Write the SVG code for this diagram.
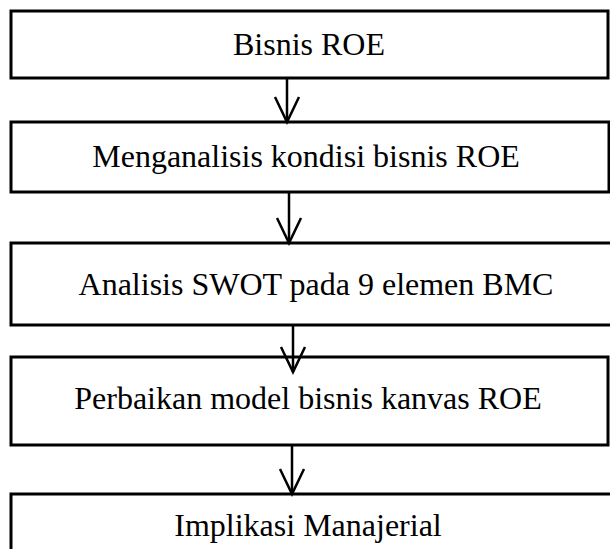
<svg xmlns="http://www.w3.org/2000/svg" width="610" height="549" viewBox="0 0 610 549">
<style>
.box{fill:#ffffff;stroke:#000000;stroke-width:3}
.lbl{font-family:"Liberation Serif","Times New Roman",serif;font-size:32px;fill:#000000;text-anchor:middle}
.conn{stroke:#000000;stroke-width:2.5;fill:none}
</style>
<defs>
<marker id="arr" markerUnits="userSpaceOnUse" viewBox="-28 -15 31 30" markerWidth="31" markerHeight="30" refX="0" refY="0" orient="auto">
<path d="M-25,-12 L0,0 L-25,12" fill="none" stroke="#000000" stroke-width="2.5"/>
</marker>
</defs>
<rect width="610" height="549" fill="#ffffff"/>
<g id="n1">
<rect class="box" x="11" y="11" width="597" height="67"/>
<text class="lbl" x="309" y="55">Bisnis ROE</text>
</g>
<g id="n2">
<rect class="box" x="11" y="122" width="598" height="70"/>
<text class="lbl" x="306" y="167">Menganalisis kondisi bisnis ROE</text>
</g>
<g id="n3">
<rect class="box" x="11" y="243" width="610" height="82"/>
<text class="lbl" x="316" y="295">Analisis SWOT pada 9 elemen BMC</text>
</g>
<g id="n4">
<rect class="box" x="11" y="357" width="597" height="88"/>
<text class="lbl" x="308" y="409">Perbaikan model bisnis kanvas ROE</text>
</g>
<g id="n5">
<rect class="box" x="11" y="494" width="610" height="70"/>
<text class="lbl" x="308" y="536">Implikasi Manajerial</text>
</g>
<g id="connectors">
<line class="conn" x1="287" y1="78" x2="287" y2="122" marker-end="url(#arr)"/>
<line class="conn" x1="289" y1="192" x2="289" y2="243" marker-end="url(#arr)"/>
<line class="conn" x1="293" y1="325" x2="293" y2="372" marker-end="url(#arr)"/>
<line class="conn" x1="292" y1="445" x2="292" y2="494" marker-end="url(#arr)"/>
</g>
</svg>
